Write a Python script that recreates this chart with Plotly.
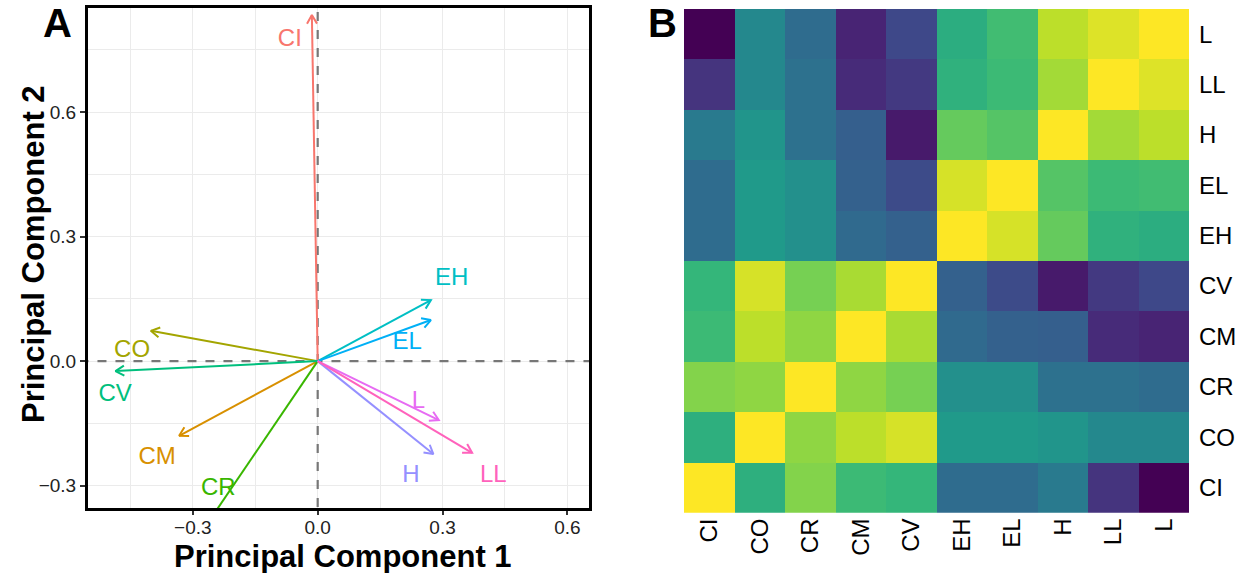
import numpy as np
import plotly.graph_objects as go

W, H = 1257, 573
FONT = "Liberation Sans, Arial, Helvetica, sans-serif"

# ---------------- Panel A data (PCA loadings) ----------------
variables = ["CI", "CM", "CO", "CR", "CV", "EH", "EL", "H", "L", "LL"]
pc1 = [-0.014, -0.333, -0.401, -0.264, -0.486, 0.272, 0.272, 0.278, 0.291, 0.371]
pc2 = [0.834, -0.180, 0.073, -0.390, -0.024, 0.147, 0.099, -0.224, -0.142, -0.221]
label_x = [-0.067, -0.386, -0.446, -0.239, -0.487, 0.322, 0.215, 0.224, 0.242, 0.422]
label_y = [0.773, -0.234, 0.025, -0.307, -0.082, 0.199, 0.043, -0.277, -0.098, -0.277]
var_colors = ["#F8766D", "#D89000", "#A3A500", "#39B600", "#00BF7D",
              "#00BFC4", "#00B0F6", "#9590FF", "#E76BF3", "#FF62BC"]

# ---------------- Panel B data (correlation heatmap) ----------------
heat_vars = ["CI", "CO", "CR", "CM", "CV", "EH", "EL", "H", "LL", "L"]
heat_values = [
    [1.00, 0.63, 0.81, 0.68, 0.66, 0.35, 0.35, 0.41, 0.15, 0.00],  # CI
    [0.63, 1.00, 0.83, 0.90, 0.94, 0.54, 0.54, 0.52, 0.47, 0.47],  # CO
    [0.81, 0.83, 1.00, 0.83, 0.79, 0.50, 0.50, 0.37, 0.37, 0.35],  # CR
    [0.68, 0.90, 0.83, 1.00, 0.87, 0.34, 0.31, 0.30, 0.12, 0.10],  # CM
    [0.66, 0.94, 0.79, 0.87, 1.00, 0.31, 0.23, 0.07, 0.17, 0.22],  # CV
    [0.35, 0.54, 0.50, 0.34, 0.31, 1.00, 0.94, 0.76, 0.64, 0.62],  # EH
    [0.35, 0.54, 0.50, 0.31, 0.23, 0.94, 1.00, 0.73, 0.68, 0.69],  # EL
    [0.41, 0.52, 0.37, 0.30, 0.07, 0.76, 0.73, 1.00, 0.86, 0.90],  # H
    [0.15, 0.47, 0.37, 0.12, 0.17, 0.64, 0.68, 0.86, 1.00, 0.95],  # LL
    [0.00, 0.47, 0.35, 0.10, 0.22, 0.62, 0.69, 0.90, 0.95, 1.00],  # L
]

# ---------------- layout geometry ----------------
xA_px = (88, 589)
yA_px = (8, 508)
xA_range = [-0.552, 0.652]
yA_range = [-0.354, 0.851]
xA_dom = [xA_px[0] / W, xA_px[1] / W]
yA_dom = [1 - yA_px[1] / H, 1 - yA_px[0] / H]
sx = (xA_px[1] - xA_px[0]) / (xA_range[1] - xA_range[0])
sy = (yA_px[1] - yA_px[0]) / (yA_range[1] - yA_range[0])

xB_dom = [684 / W, 1189 / W]
yB_dom = [1 - 512.7 / H, 1 - 9 / H]

fig = go.Figure()

# dashed reference lines through origin
fig.add_trace(go.Scatter(x=[0, 0], y=[-2, 2], mode="lines",
                         line=dict(color="#777777", width=2.2, dash="dash"),
                         hoverinfo="skip", showlegend=False, xaxis="x", yaxis="y"))
fig.add_trace(go.Scatter(x=[-2, 2], y=[0, 0], mode="lines",
                         line=dict(color="#777777", width=2.2, dash="dash"),
                         hoverinfo="skip", showlegend=False, xaxis="x", yaxis="y"))

head_len = 10.0
head_ang = np.deg2rad(30)
for name, tx, ty, col in zip(variables, pc1, pc2, var_colors):
    vx, vy = tx * sx, ty * sy
    n = np.hypot(vx, vy)
    ux, uy = vx / n, vy / n
    wings = []
    for a in (head_ang, -head_ang):
        rx = ux * np.cos(a) - uy * np.sin(a)
        ry = ux * np.sin(a) + uy * np.cos(a)
        wings.append((tx - head_len * rx / sx, ty - head_len * ry / sy))
    xs = [0, tx, None, wings[0][0], tx, wings[1][0]]
    ys = [0, ty, None, wings[0][1], ty, wings[1][1]]
    fig.add_trace(go.Scatter(x=xs, y=ys, mode="lines",
                             line=dict(color=col, width=2),
                             hoverinfo="skip", showlegend=False,
                             xaxis="x", yaxis="y"))

for name, lx, ly, col in zip(variables, label_x, label_y, var_colors):
    fig.add_trace(go.Scatter(x=[lx], y=[ly], mode="text", text=[name],
                             textposition="middle center",
                             textfont=dict(color=col, size=24, family=FONT),
                             hoverinfo="skip", showlegend=False,
                             xaxis="x", yaxis="y"))

# heatmap
fig.add_trace(go.Heatmap(z=heat_values, x=heat_vars, y=heat_vars,
                         colorscale="Viridis", zmin=0, zmax=1,
                         showscale=False, xaxis="x2", yaxis="y2"))

tickfontA = dict(size=19, color="#222222", family=FONT)
fig.update_layout(
    width=W, height=H,
    margin=dict(l=0, r=0, t=0, b=0),
    paper_bgcolor="white", plot_bgcolor="white",
    font=dict(family=FONT, color="black"),
    xaxis=dict(domain=xA_dom, range=xA_range, anchor="y",
               tick0=0, dtick=0.3, tickformat=".1f",
               showgrid=True, gridcolor="#EBEBEB", gridwidth=1.1,
               minor=dict(dtick=0.15, tick0=0, showgrid=True,
                          gridcolor="#EBEBEB", gridwidth=0.8),
               zeroline=False, showline=True, linecolor="black",
               linewidth=3, mirror=True,
               ticks="outside", ticklen=4, tickwidth=1.5, tickcolor="#333333",
               ticklabelstandoff=-4,
               tickfont=tickfontA),
    yaxis=dict(domain=yA_dom, range=yA_range, anchor="x",
               tick0=0, dtick=0.3, tickformat=".1f",
               showgrid=True, gridcolor="#EBEBEB", gridwidth=1.1,
               minor=dict(dtick=0.15, tick0=0, showgrid=True,
                          gridcolor="#EBEBEB", gridwidth=0.8),
               zeroline=False, showline=True, linecolor="black",
               linewidth=3, mirror=True,
               ticks="outside", ticklen=5, tickwidth=1.5, tickcolor="#333333",
               tickfont=tickfontA),
    xaxis2=dict(domain=xB_dom, anchor="y2", type="category",
                categoryorder="array", categoryarray=heat_vars,
                tickangle=-90, tickfont=dict(size=24, color="black", family=FONT),
                showgrid=False, zeroline=False, showline=False, ticks=""),
    yaxis2=dict(domain=yB_dom, anchor="x2", type="category", side="right",
                categoryorder="array", categoryarray=heat_vars,
                tickfont=dict(size=24, color="black", family=FONT),
                ticklabelstandoff=9,
                showgrid=False, zeroline=False, showline=False, ticks=""),
    annotations=[
        dict(text="<b>Principal Component 1</b>", xref="paper", yref="paper",
             x=343 / W, y=1 - 556 / H,
             xanchor="center", yanchor="middle", showarrow=False,
             font=dict(size=31, color="black", family=FONT)),
        dict(text="<b>Principal Component 2</b>", xref="paper", yref="paper",
             x=33 / W, y=1 - 254 / H, textangle=-90,
             xanchor="center", yanchor="middle", showarrow=False,
             font=dict(size=31, color="black", family=FONT)),
        dict(text="<b>A</b>", xref="paper", yref="paper",
             x=57 / W, y=1 - 23 / H, xanchor="center", yanchor="middle",
             showarrow=False, font=dict(size=40, color="black", family=FONT)),
        dict(text="<b>B</b>", xref="paper", yref="paper",
             x=662 / W, y=1 - 23 / H, xanchor="center", yanchor="middle",
             showarrow=False, font=dict(size=40, color="black", family=FONT)),
    ],
)

fig.write_html("out.html")
